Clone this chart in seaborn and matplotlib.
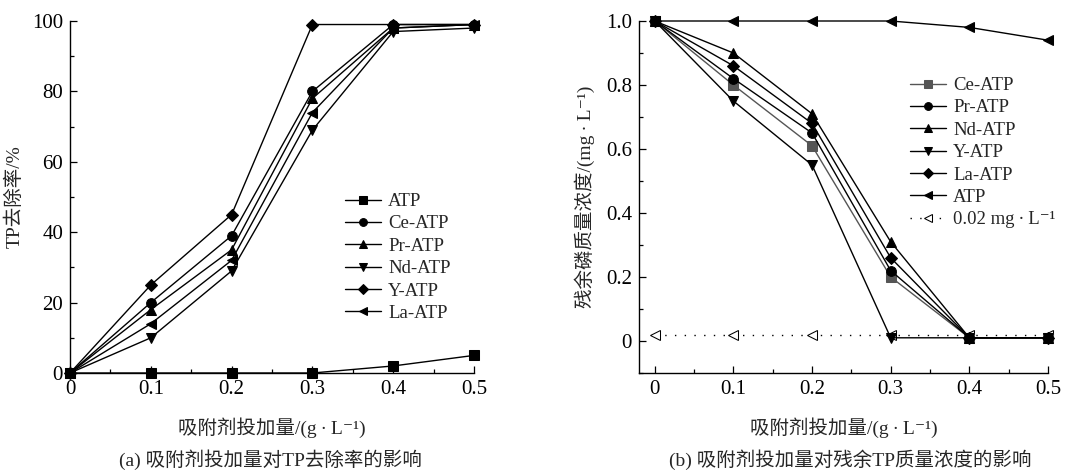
import matplotlib
matplotlib.use("Agg")
import matplotlib.pyplot as plt
from matplotlib.ticker import MultipleLocator
import seaborn as sns
import pandas as pd

sns.set_theme(style="ticks")
FAM = ['Liberation Serif', 'Noto Sans CJK SC', 'DejaVu Serif']
plt.rcParams['font.family'] = FAM
plt.rcParams['axes.unicode_minus'] = False

dose = [0, 0.1, 0.2, 0.3, 0.4, 0.5]

# Panel (a): TP removal rate (%)
a_names = ["ATP", "Ce-ATP", "Pr-ATP", "Nd-ATP", "Y-ATP", "La-ATP"]
a_ATP = [0, 0, 0, 0, 2, 5]
a_Ce = [0, 20, 39, 80, 99, 99]
a_Pr = [0, 18, 35, 78, 98, 99]
a_Nd = [0, 10, 29, 69, 97, 98]
a_Y = [0, 25, 45, 99, 99, 99]
a_La = [0, 14, 32, 74, 98, 99]
a_vals = [a_ATP, a_Ce, a_Pr, a_Nd, a_Y, a_La]
a_markers = ["s", "o", "^", "v", "D", "<"]

# Panel (b): residual TP concentration (mg/L)
b_names = ["Ce-ATP", "Pr-ATP", "Nd-ATP", "Y-ATP", "La-ATP", "ATP"]
b_Ce = [1.0, 0.80, 0.61, 0.20, 0.01, 0.01]
b_Pr = [1.0, 0.82, 0.65, 0.22, 0.01, 0.01]
b_Nd = [1.0, 0.90, 0.71, 0.31, 0.01, 0.01]
b_Y = [1.0, 0.75, 0.55, 0.01, 0.01, 0.01]
b_La = [1.0, 0.86, 0.68, 0.26, 0.01, 0.01]
b_ATP = [1.0, 1.0, 1.0, 1.0, 0.98, 0.94]
b_vals = [b_Ce, b_Pr, b_Nd, b_Y, b_La, b_ATP]
b_markers = ["s", "o", "^", "v", "D", "<"]
b_colors = ["#555555", "black", "black", "black", "black", "black"]
ref_name = "0.02 mg\u2009·\u2009L⁻¹"
ref_vals = [0.02] * 6

fig = plt.figure(figsize=(10.71, 4.74), dpi=100)
ax1 = fig.add_axes([70/1071, 1-373/474, 404/1071, 352/474])
ax2 = fig.add_axes([639/1071, 1-373/474, 409/1071, 352/474])

for name, vals, m in zip(a_names, a_vals, a_markers):
    df = pd.DataFrame({"x": dose, "y": vals})
    sns.lineplot(data=df, x="x", y="y", ax=ax1, color="black", lw=1.0,
                 marker=m, markersize=7 if m != "D" else 6, markeredgecolor="black",
                 markerfacecolor="black", label=name, clip_on=False, zorder=3)

for name, vals, m, c in zip(b_names, b_vals, b_markers, b_colors):
    df = pd.DataFrame({"x": dose, "y": vals})
    sns.lineplot(data=df, x="x", y="y", ax=ax2, color=c, lw=1.0,
                 marker=m, markersize=7 if m != "D" else 6, markeredgecolor=c,
                 markerfacecolor=c, label=name, clip_on=False, zorder=3)
df = pd.DataFrame({"x": dose, "y": ref_vals})
sns.lineplot(data=df, x="x", y="y", ax=ax2, color="black", lw=1.0,
             linestyle=(0, (1, 6)), marker="<", markersize=7,
             markerfacecolor="white", markeredgecolor="black",
             label=ref_name, clip_on=False, zorder=2)

for ax in (ax1, ax2):
    for s in ("top", "right"):
        ax.spines[s].set_visible(False)
    for s in ("left", "bottom"):
        ax.spines[s].set_linewidth(1.0)
        ax.spines[s].set_color("black")
    ax.xaxis.set_minor_locator(MultipleLocator(0.05))
    ax.set_xticks([0, 0.1, 0.2, 0.3, 0.4, 0.5])
    ax.set_xticklabels(["0", "0.1", "0.2", "0.3", "0.4", "0.5"])
    ax.tick_params(which="both", direction="in", colors="black", labelsize=15)
    ax.tick_params(which="major", length=5, width=0.9, pad=5)
    ax.tick_params(which="minor", length=3, width=0.9)
    ax.set_xlabel("吸附剂投加量/(g\u2009·\u2009L⁻¹)", fontsize=14, labelpad=13)

ax1.set_xlim(0, 0.5)
ax1.set_ylim(0, 100)
ax1.set_yticks([0, 20, 40, 60, 80, 100])
ax1.yaxis.set_minor_locator(MultipleLocator(10))
ax1.tick_params(axis="y", labelsize=15)
ax1.set_ylabel("TP去除率/%", fontsize=14, labelpad=6)

ax2.set_xlim(-0.02, 0.5)
ax2.set_ylim(-0.1, 1.0)
ax2.set_yticks([0, 0.2, 0.4, 0.6, 0.8, 1.0])
ax2.set_yticklabels(["0", "0.2", "0.4", "0.6", "0.8", "1.0"])
ax2.yaxis.set_minor_locator(MultipleLocator(0.1))
ax2.tick_params(axis="y", labelsize=15)
ax2.set_ylabel("残余磷质量浓度/(mg\u2009·\u2009L⁻¹)", fontsize=14, labelpad=8)

leg_kw = dict(frameon=False, fontsize=13.5, handlelength=1.9, handletextpad=0.4,
              labelspacing=0.28, borderpad=0.0, borderaxespad=0.0, markerscale=0.8)
ax1.legend(loc="upper left", bbox_to_anchor=(275/404, 1-172/352), **leg_kw)
ax2.legend(loc="upper left", bbox_to_anchor=(271/409, 1-56/352), **leg_kw)

fig.text(270/1071, 1-460/474, "(a) 吸附剂投加量对TP去除率的影响", ha="center", va="center",
         fontsize=14, family=FAM)
fig.text(850/1071, 1-460/474, "(b) 吸附剂投加量对残余TP质量浓度的影响", ha="center", va="center",
         fontsize=14, family=FAM)

fig.savefig("out.png", dpi=100)
